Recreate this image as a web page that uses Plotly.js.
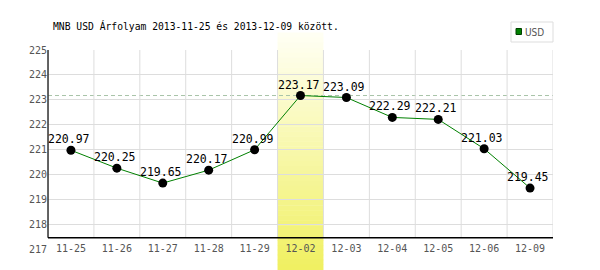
<!DOCTYPE html>
<html>
<head>
<meta charset="utf-8">
<script src="https://cdn.plot.ly/plotly-3.0.1.min.js"></script>
<style>html,body{margin:0;padding:0;background:#fff;}#chart{width:600px;height:270px;}</style>
</head>
<body>
<div id="chart"></div>
<script>
// ---- data ----
const categories = ['11-25','11-26','11-27','11-28','11-29','12-02','12-03','12-04','12-05','12-06','12-09'];
const usdValues = [220.97, 220.25, 219.65, 220.17, 220.99, 223.17, 223.09, 222.29, 222.21, 221.03, 219.45];
const highlightCategory = '12-02';
const seriesName = 'USD';
const titleText = 'MNB USD Árfolyam 2013-11-25 és 2013-12-09 között.';
const yMin = 217, yMax = 225;

// ---- layout helpers ----
const W = 600, H = 270;
const M = {l: 48, r: 47, t: 50, b: 21};
const plotW = W - M.l - M.r, plotH = H - M.t - M.b;
const pxX = px => (px - M.l) / plotW;
const pxY = py => (H - M.b - py) / plotH;
const axisLineY = yMin + 0.45;
const mono = 'DejaVu Sans Mono, monospace';

const shapes = [];
// vertical grid lines at category boundaries
for (let i = 0; i <= categories.length; i++) {
  shapes.push({type: 'line', layer: 'below', xref: 'x', yref: 'y',
    x0: i - 0.5, x1: i - 0.5, y0: axisLineY, y1: yMax,
    line: {color: '#dddddd', width: 1}});
}
// highlight band with vertical gradient
const hi = categories.indexOf(highlightCategory);
const bandTop = pxY(33), bandBot = pxY(270);
const strips = 48;
for (let s = 0; s < strips; s++) {
  const t = (s + 0.5) / strips; // 0 top -> 1 bottom
  const r = Math.round(255 + (240 - 255) * t);
  const g = Math.round(255 + (240 - 255) * t);
  const b = Math.round(245 + (96 - 245) * t);
  const ya = bandTop + (bandBot - bandTop) * s / strips;
  const yb = bandTop + (bandBot - bandTop) * (s + 1) / strips;
  shapes.push({type: 'rect', layer: 'between', xref: 'x', yref: 'paper',
    x0: hi - 0.5, x1: hi + 0.5, y0: yb, y1: ya + (ya > yb ? 0.002 : -0.002),
    fillcolor: `rgb(${r},${g},${b})`, line: {width: 0}});
}
// dashed line at max
const maxVal = Math.max(...usdValues);
shapes.push({type: 'line', layer: 'between', xref: 'paper', yref: 'y',
  x0: 0, x1: 1, y0: maxVal, y1: maxVal,
  line: {color: '#a8c4a8', width: 1, dash: '4px,3px'}});
// axis lines
shapes.push({type: 'line', layer: 'above', xref: 'paper', yref: 'y',
  x0: 0, x1: 1, y0: axisLineY, y1: axisLineY, line: {color: '#000', width: 1.4}});
shapes.push({type: 'line', layer: 'above', xref: 'paper', yref: 'y',
  x0: 0, x1: 0, y0: axisLineY, y1: yMax, line: {color: '#000', width: 1.2}});
// legend box
shapes.push({type: 'rect', xref: 'paper', yref: 'paper',
  x0: pxX(511), x1: pxX(553), y0: pxY(42), y1: pxY(22),
  fillcolor: '#fff', line: {color: '#dddddd', width: 1}});
shapes.push({type: 'rect', xref: 'paper', yref: 'paper',
  x0: pxX(516), x1: pxX(521.5), y0: pxY(34.5), y1: pxY(28.5),
  fillcolor: '#008000', line: {color: '#004000', width: 1}});

const annotations = [{
  xref: 'paper', yref: 'paper', x: pxX(523), y: pxY(32), xanchor: 'left', yanchor: 'middle',
  text: seriesName, showarrow: false, font: {family: 'DejaVu Sans Condensed, DejaVu Sans', size: 10, color: '#555'}
}];
// value labels above points
categories.forEach((c, i) => {
  annotations.push({xref: 'x', yref: 'y', x: c, y: usdValues[i],
    text: usdValues[i].toFixed(2), showarrow: false,
    xanchor: 'center', yanchor: 'middle', xshift: -2, yshift: 11,
    font: {family: mono, size: 11.5, color: '#000'}});
});

const trace = {
  type: 'scatter', mode: 'lines+markers', name: seriesName,
  x: categories, y: usdValues,
  line: {color: '#008000', width: 1},
  marker: {color: '#000', size: 9},
  cliponaxis: false, showlegend: false
};

const layout = {
  width: W, height: H, margin: M,
  paper_bgcolor: '#fff', plot_bgcolor: '#fff',
  title: {text: titleText, x: 53 / W, xanchor: 'left', xref: 'container',
    y: 1 - 27 / H, yanchor: 'middle', yref: 'container',
    font: {family: mono, size: 9.7, color: '#000'}},
  xaxis: {type: 'category', range: [-0.5, categories.length - 0.5],
    showgrid: false, zeroline: false, showline: false, ticks: '',
    ticklabelstandoff: -8,
    tickfont: {family: mono, size: 10, color: '#555'}, fixedrange: true},
  yaxis: {range: [yMin, yMax], dtick: 1, tick0: yMin,
    showgrid: true, gridcolor: '#dddddd', gridwidth: 1, zeroline: false, showline: false,
    ticks: '', tickfont: {family: mono, size: 10, color: '#555'}, fixedrange: true},
  shapes: shapes, annotations: annotations, showlegend: false
};

Plotly.newPlot('chart', [trace], layout, {displayModeBar: false, staticPlot: true});
</script>
</body>
</html>
